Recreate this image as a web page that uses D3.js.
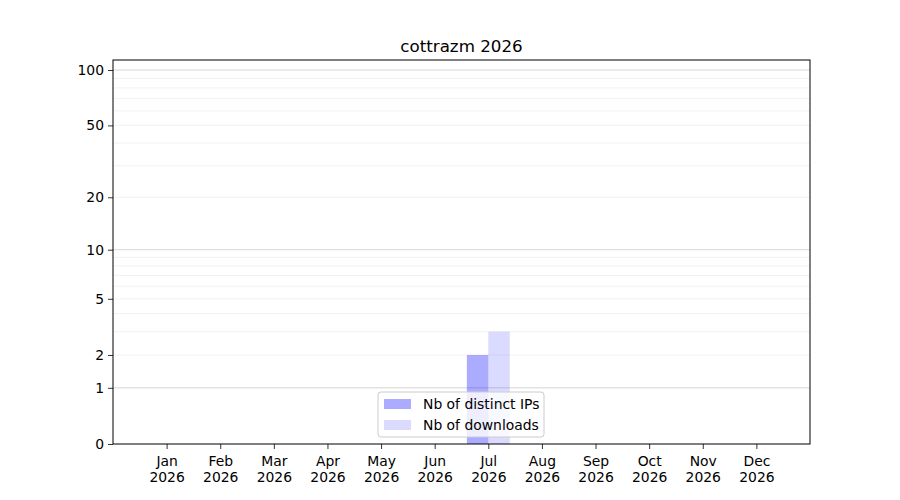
<!DOCTYPE html>
<html>
<head>
<meta charset="utf-8">
<script src="https://cdn.jsdelivr.net/npm/d3@7"></script>
<style>
  body { margin: 0; background: #fff; }
  text { font-family: "DejaVu Sans", sans-serif; }
</style>
</head>
<body>
<div id="chart"></div>
<script>
var months = ["Jan", "Feb", "Mar", "Apr", "May", "Jun", "Jul", "Aug", "Sep", "Oct", "Nov", "Dec"];
var year = "2026";
var distinctIPs = [0, 0, 0, 0, 0, 0, 2, 0, 0, 0, 0, 0];
var downloads = [0, 0, 0, 0, 0, 0, 3, 0, 0, 0, 0, 0];
var yTicks = [0, 1, 2, 5, 10, 20, 50, 100];
var yMinor = [2, 3, 4, 5, 6, 7, 8, 9, 20, 30, 40, 50, 60, 70, 80, 90];
var yMajor = [1, 10, 100];

var width = 900, height = 500;
var plotLeft = 113, plotRight = 810, plotTop = 60, plotBottom = 444;

var svg = d3.select("#chart").append("svg")
    .attr("width", width)
    .attr("height", height);

var x = d3.scaleLinear().domain([-1, 12]).range([plotLeft, plotRight]);
var y = d3.scaleSymlog().constant(1).domain([0, 113.3]).range([plotBottom, plotTop]);

// grid
svg.append("g").selectAll("line")
    .data(yMinor)
    .enter()
    .append("line")
    .attr("x1", plotLeft).attr("x2", plotRight)
    .attr("y1", function(d){ return y(d); })
    .attr("y2", function(d){ return y(d); })
    .style("stroke", "#efefef")
    .style("stroke-width", 0.8);
svg.append("g").selectAll("line")
    .data(yMajor)
    .enter()
    .append("line")
    .attr("x1", plotLeft).attr("x2", plotRight)
    .attr("y1", function(d){ return y(d); })
    .attr("y2", function(d){ return y(d); })
    .style("stroke", "#cccccc")
    .style("stroke-width", 0.8);

var barW = x(0.4) - x(0);

// bars
svg.append("g").selectAll("rect")
    .data(distinctIPs)
    .enter()
    .append("rect")
    .attr("x", function(d, i){ return x(i) - barW; })
    .attr("y", function(d){ return y(d); })
    .attr("width", barW)
    .attr("height", function(d){ return plotBottom - y(d); })
    .style("fill", "#0000ff")
    .style("fill-opacity", 0.33);
svg.append("g").selectAll("rect")
    .data(downloads)
    .enter()
    .append("rect")
    .attr("x", function(d, i){ return x(i); })
    .attr("y", function(d){ return y(d); })
    .attr("width", barW)
    .attr("height", function(d){ return plotBottom - y(d); })
    .style("fill", "#0000ff")
    .style("fill-opacity", 0.14);

// axes
var xAxis = svg.append("g")
    .attr("transform", "translate(0," + plotBottom + ")")
    .call(d3.axisBottom(x).tickValues(d3.range(12)).tickSize(5).tickSizeOuter(0).tickFormat(""));
xAxis.select(".domain").remove();
xAxis.selectAll(".tick line").style("stroke", "#000").style("stroke-width", 0.8);
xAxis.selectAll(".tick").append("text")
    .attr("fill", "#000")
    .style("font-size", "13.9px")
    .style("text-anchor", "middle")
    .selectAll("tspan")
    .data(function(d){ return [months[d], year]; })
    .enter()
    .append("tspan")
    .attr("x", 0)
    .attr("y", function(d, i){ return 22 + i * 16; })
    .text(function(d){ return d; });

var yAxis = svg.append("g")
    .attr("transform", "translate(" + plotLeft + ",0)")
    .call(d3.axisLeft(y).tickValues(yTicks).tickSize(5).tickPadding(4).tickFormat(d3.format("d")));
yAxis.select(".domain").remove();
yAxis.selectAll(".tick line").style("stroke", "#000").style("stroke-width", 0.8);
yAxis.selectAll(".tick text").style("font-size", "13.9px").attr("fill", "#000");

svg.append("rect")
    .attr("x", plotLeft).attr("y", plotTop)
    .attr("width", plotRight - plotLeft).attr("height", plotBottom - plotTop)
    .style("fill", "none")
    .style("stroke", "#000")
    .style("stroke-width", 1);

// title
svg.append("text")
    .attr("x", (plotLeft + plotRight) / 2)
    .attr("y", 52)
    .style("text-anchor", "middle")
    .style("font-size", "16.7px")
    .text("cottrazm " + year);

// legend
var legend = svg.append("g").attr("transform", "translate(378,392)");
legend.append("rect")
    .attr("width", 166).attr("height", 45)
    .attr("rx", 3)
    .style("fill", "#fff")
    .style("fill-opacity", 0.8)
    .style("stroke", "#cccccc")
    .style("stroke-width", 1);
var items = [
  {label: "Nb of distinct IPs", opacity: 0.33},
  {label: "Nb of downloads", opacity: 0.14}
];
legend.selectAll(".item")
    .data(items)
    .enter()
    .append("rect")
    .attr("x", 6)
    .attr("y", function(d, i){ return 7 + i * 21; })
    .attr("width", 27).attr("height", 10)
    .style("fill", "#0000ff")
    .style("fill-opacity", function(d){ return d.opacity; });
legend.selectAll(".lbl")
    .data(items)
    .enter()
    .append("text")
    .attr("x", 45)
    .attr("y", function(d, i){ return 17 + i * 21; })
    .style("font-size", "13.9px")
    .text(function(d){ return d.label; });
</script>
</body>
</html>
